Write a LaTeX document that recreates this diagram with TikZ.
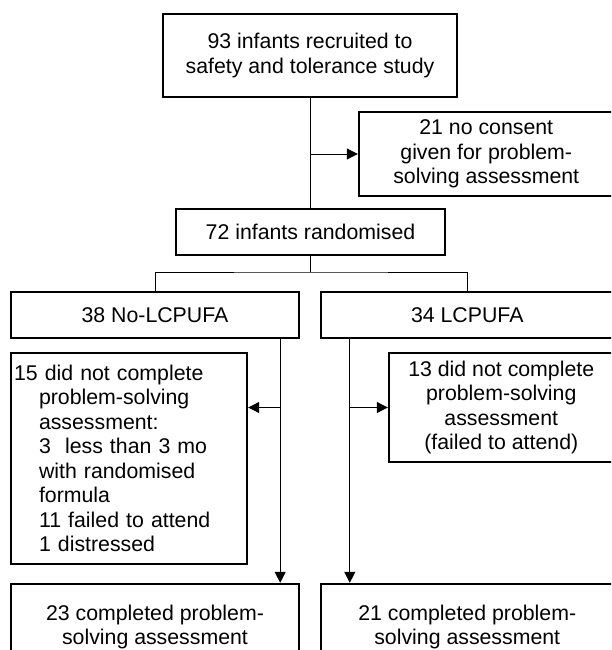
\documentclass[tikz,border=0pt]{standalone}
\usepackage{fontspec}
\setmainfont{Liberation Sans}
\usetikzlibrary{arrows.meta,calc,positioning}
\tikzset{
	box/.style={draw, line width=2.4pt, align=center, inner sep=0pt, font=\fontsize{21.3}{24.5}\selectfont},
	conn/.style={line width=1pt},
	tip/.style={-{Triangle[length=11pt,width=11pt]}},
}
\newcommand{\ind}{\hspace*{25pt}}

\begin{document}
\begin{tikzpicture}[x=1pt,y=-1pt]
	\useasboundingbox (0,0) rectangle (611,650);
	\clip (0,0) rectangle (611,650);
	% top of the chart
	\node[box, minimum width=294, minimum height=83] (recruit) at (310,55.5) {93 infants recruited to\\safety and tolerance study};
	\node[box, minimum width=254.5, minimum height=84] (consent) at (486.25,154) {21 no consent\\given for problem-\\solving assessment};
	\node[box, minimum width=269, minimum height=46] (rand) at (310.5,232) {72 infants randomised};
	% the two arms
	\node[box, minimum width=288, minimum height=46] (noL) at (155,315) {38 No-LCPUFA};
	\node[box, minimum width=292.5, minimum height=46] (L) at (467.25,315) {34 LCPUFA};
	\node[box, minimum height=211, text width=230, inner xsep=3pt, align=left] (notL) at (129,458.5) {15 did not complete\\\ind problem-solving\\\ind assessment:\\\ind 3\ \ less than 3 mo\\\ind with randomised\\\ind formula\\\ind 11 failed to attend\\\ind 1 distressed};
	\node[box, minimum width=224.5, minimum height=109] (notR) at (501.25,407.5) {13 did not complete\\problem-solving\\assessment\\(failed to attend)};
	\node[box, minimum width=288, minimum height=86] (doneL) at (155,627) {23 completed problem-\\solving assessment};
	\node[box, minimum width=292.5, minimum height=86] (doneR) at (467.25,627) {21 completed problem-\\solving assessment};
	% connectors
	\coordinate (fork) at (310.5,272);
	\draw[conn] (recruit.south) -- (recruit.south |- rand.north);
	\draw[conn,tip] (recruit.south |- consent.west) -- (consent.west);
	\draw[conn] (rand.south) -- (fork) (noL.north) |- (fork) -| (L.north);
	\draw[conn,tip] (noL.south east) ++(-20,0) coordinate (dL) -- (dL |- doneL.north);
	\draw[conn,tip] (L.south west) ++(30,0) coordinate (dR) -- (dR |- doneR.north);
	\draw[conn,tip] (dL |- notR.west) -- (notL.east |- notR.west);
	\draw[conn,tip] (dR |- notR.west) -- (notR.west);
\end{tikzpicture}
\end{document}
